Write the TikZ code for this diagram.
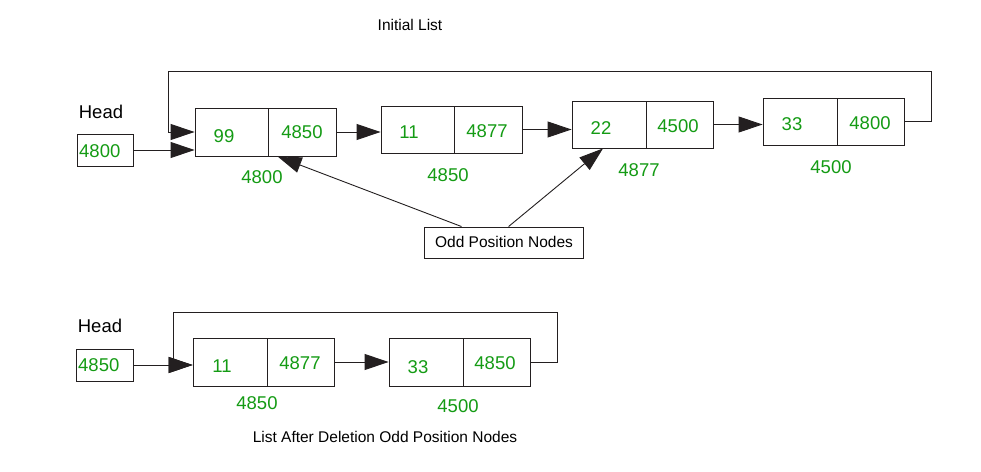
\documentclass[tikz,border=0pt]{standalone}
\usepackage{fontspec}
\setmainfont{Liberation Sans}
\usetikzlibrary{arrows.meta}
\definecolor{numgreen}{RGB}{20,155,20}
\definecolor{ink}{RGB}{35,31,32}
\tikzset{
  cell/.style={draw=ink, line width=0.9pt, inner sep=0pt},
  num/.style={text=numgreen, font=\fontsize{18.5}{20}\selectfont, inner sep=0pt},
  lbl/.style={text=black, font=\fontsize{18.5}{20}\selectfont, inner sep=0pt},
  small/.style={text=black, font=\fontsize{15.5}{17}\selectfont, inner sep=0pt},
  arr/.style={draw=ink, line width=0.9pt, -{Triangle[length=24pt,width=16pt]}},
}
\begin{document}
\begin{tikzpicture}[x=1pt,y=-1pt]
\useasboundingbox (0,0) rectangle (981,471);
\fill[white] (0,0) rectangle (981,471);

% titles
\node[small] (t1) at (410,25) {Initial List};
\node[small] (t2) at (385,437) {List After Deletion Odd Position Nodes};

% ---------- top list ----------
\node[lbl] (head1) at (101,112) {Head};
\node[cell, minimum width=56pt, minimum height=32pt] (hb1) at (105,150) {};
\node[num, anchor=west] (hb1t) at (79,151) {4800};

\node[cell, minimum width=73pt, minimum height=48pt] (n1a) at (231.5,132) {};
\node[cell, minimum width=68pt, minimum height=48pt] (n1b) at (302,132) {};
\node[num] (n1at) at (224,136) {99};
\node[num] (n1bt) at (302,132) {4850};
\node[num] (n1ad) at (262,177) {4800};

\node[cell, minimum width=73pt, minimum height=47pt] (n2a) at (417.5,129.5) {};
\node[cell, minimum width=68pt, minimum height=47pt] (n2b) at (488,129.5) {};
\node[num] (n2at) at (409,132) {11};
\node[num] (n2bt) at (487,131) {4877};
\node[num] (n2ad) at (448,175) {4850};

\node[cell, minimum width=74pt, minimum height=47pt] (n3a) at (609,124.5) {};
\node[cell, minimum width=67pt, minimum height=47pt] (n3b) at (679.5,124.5) {};
\node[num] (n3at) at (601,128) {22};
\node[num] (n3bt) at (678,126) {4500};
\node[num] (n3ad) at (639,170) {4877};

\node[cell, minimum width=74pt, minimum height=47pt] (n4a) at (800,121.5) {};
\node[cell, minimum width=67pt, minimum height=47pt] (n4b) at (870.5,121.5) {};
\node[num] (n4at) at (792,124) {33};
\node[num] (n4bt) at (870,123) {4800};
\node[num] (n4ad) at (831,167) {4500};

\node[cell, minimum width=159pt, minimum height=31pt] (odd) at (503.5,242.5) {};
\node[small] (oddt) at (504,242) {Odd Position Nodes};

\coordinate (loopR) at (931,71);
\coordinate (loopL) at (168,71);

\draw[arr] (hb1.east) -- (n1a.west |- hb1.east);
\draw[arr] (n4b.east) -| (loopR) -- (loopL) |- (n1a.west);
\draw[arr] (n1b.east) -- (n2a.west |- n1b.east);
\draw[arr] (n2b.east) -- (n3a.west |- n2b.east);
\draw[arr] (n3b.east) -- (n4a.west |- n3b.east);
\draw[arr] ([xshift=38pt]odd.north west) -- ([xshift=10pt]n1b.south west);
\draw[arr] ([xshift=85pt]odd.north west) -- ([xshift=-6pt]n3a.south);

% ---------- bottom list ----------
\node[lbl] (head2) at (100,326) {Head};
\node[cell, minimum width=57pt, minimum height=32pt] (hb2) at (104.5,365) {};
\node[num, anchor=west] (hb2t) at (78,365) {4850};

\node[cell, minimum width=74pt, minimum height=48pt] (m1a) at (230,362) {};
\node[cell, minimum width=67pt, minimum height=48pt] (m1b) at (300.5,362) {};
\node[num] (m1at) at (222,366) {11};
\node[num] (m1bt) at (300,363) {4877};
\node[num] (m1ad) at (257,403) {4850};

\node[cell, minimum width=74pt, minimum height=48pt] (m2a) at (426,362) {};
\node[cell, minimum width=67pt, minimum height=48pt] (m2b) at (496.5,362) {};
\node[num] (m2at) at (418,367) {33};
\node[num] (m2bt) at (495,363) {4850};
\node[num] (m2ad) at (458,406) {4500};

\coordinate (loop2R) at (557,312);
\coordinate (loop2L) at (173,312);

\draw[arr] (hb2.east) -- (m1a.west |- hb2.east);
\draw[arr] (m2b.east) -| (loop2R) -- (loop2L) |- (m1a.west |- hb2.east);
\draw[arr] (m1b.east) -- (m2a.west |- m1b.east);
\end{tikzpicture}
\end{document}
